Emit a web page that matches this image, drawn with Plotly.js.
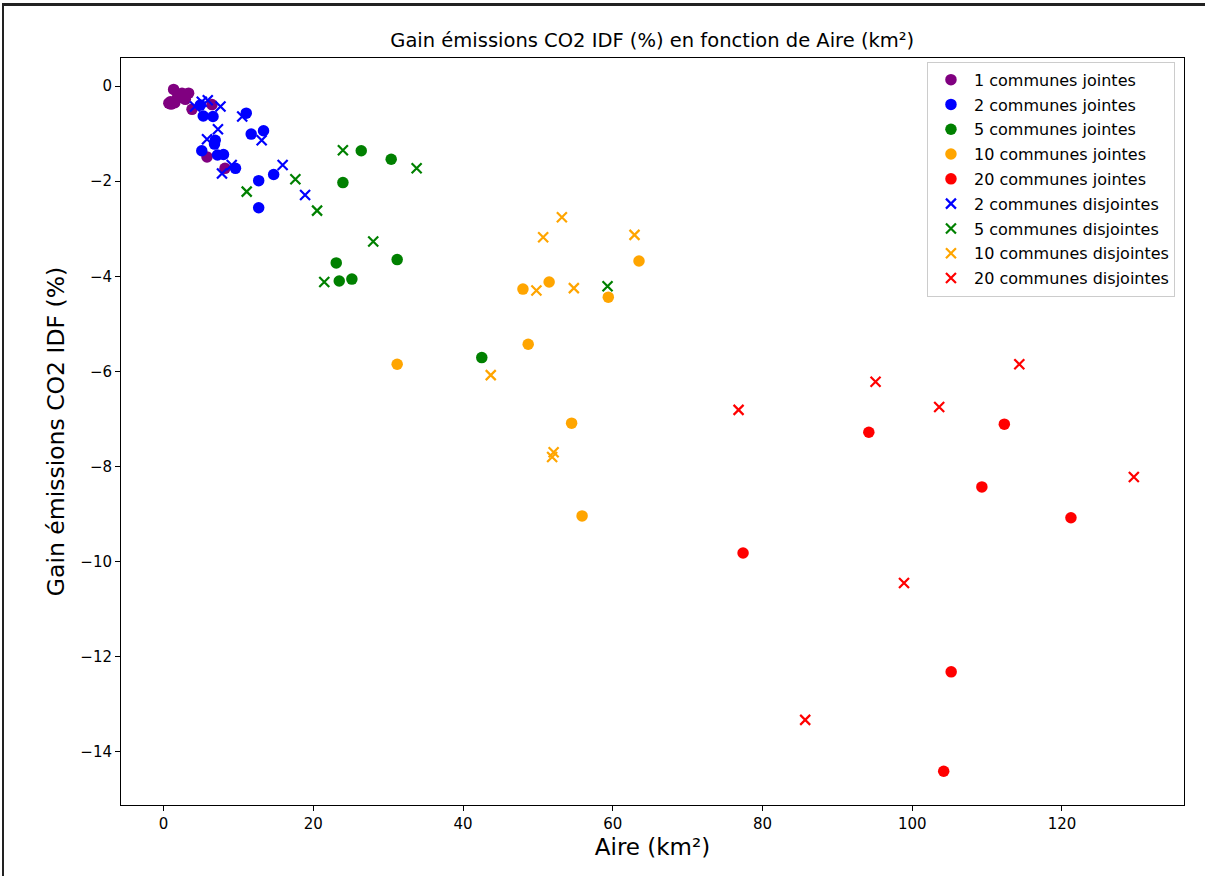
<!DOCTYPE html>
<html>
<head>
<meta charset="utf-8">
<script src="https://cdn.plot.ly/plotly-3.0.1.min.js"></script>
<style>
  html, body { margin: 0; padding: 0; background: #fff; }
  #frame { position: absolute; left: 2px; top: 3px; width: 1203px; height: 873px; border-left: 2px solid #222; border-top: 3px solid #222; box-sizing: border-box; pointer-events: none; }
  #chart { width: 1205px; height: 876px; }
</style>
</head>
<body>
<div id="chart"></div>
<div id="frame"></div>
<script>
// 1 commune jointe
const j1_x = [1.34, 2.46, 3.34, 0.9, 1.8, 2.9, 1.0, 2.2, 3.0, 3.8, 6.46, 5.8, 8.2, 1.5, 0.7];
const j1_y = [-0.07, -0.15, -0.15, -0.33, -0.26, -0.28, -0.38, -0.2, -0.18, -0.49, -0.39, -1.49, -1.73, -0.35, -0.36];
// 2 communes jointes
const j2_x = [4.9, 5.3, 6.6, 11.04, 11.7, 13.35, 6.9, 6.8, 5.1, 7.2, 8.0, 9.6, 12.7, 14.7, 12.7];
const j2_y = [-0.4, -0.63, -0.64, -0.57, -1.01, -0.94, -1.14, -1.22, -1.36, -1.45, -1.44, -1.73, -1.99, -1.86, -2.56];
// 5 communes jointes
const j5_x = [26.4, 30.4, 23.95, 23.06, 23.46, 25.15, 31.2, 42.5];
const j5_y = [-1.36, -1.54, -2.03, -3.72, -4.10, -4.06, -3.65, -5.71];
// 10 communes jointes
const j10_x = [31.2, 48.0, 48.7, 51.5, 54.5, 55.9, 59.4, 63.5];
const j10_y = [-5.85, -4.27, -5.43, -4.12, -7.09, -9.04, -4.44, -3.68];
// 20 communes jointes
const j20_x = [77.4, 94.2, 104.2, 105.2, 109.3, 112.3, 121.2];
const j20_y = [-9.82, -7.28, -14.41, -12.32, -8.43, -7.11, -9.08];
// 2 communes disjointes
const d2_x = [5.1, 4.2, 7.6, 10.5, 7.26, 5.8, 13.1, 7.8, 9.1, 15.9, 18.9, 5.9];
const d2_y = [-0.33, -0.43, -0.43, -0.64, -0.91, -1.12, -1.14, -1.84, -1.66, -1.66, -2.29, -0.3];
// 5 communes disjointes
const d5_x = [11.1, 17.6, 20.5, 23.95, 28.0, 21.46, 33.8, 59.3];
const d5_y = [-2.22, -1.96, -2.62, -1.35, -3.27, -4.12, -1.73, -4.21];
// 10 communes disjointes
const d10_x = [53.2, 50.7, 49.8, 54.8, 62.9, 43.7, 52.1, 51.9];
const d10_y = [-2.76, -3.18, -4.30, -4.25, -3.13, -6.08, -7.7, -7.8];
// 20 communes disjointes
const d20_x = [76.8, 85.7, 95.1, 98.9, 103.6, 114.3, 129.6];
const d20_y = [-6.81, -13.33, -6.22, -10.45, -6.75, -5.85, -8.22];

const seriesNames = ["1 communes jointes", "2 communes jointes", "5 communes jointes", "10 communes jointes", "20 communes jointes",
  "2 communes disjointes", "5 communes disjointes", "10 communes disjointes", "20 communes disjointes"];
const colors = ["#800080", "#0000ff", "#008000", "#ffa500", "#ff0000", "#0000ff", "#008000", "#ffa500", "#ff0000"];
const xs = [j1_x, j2_x, j5_x, j10_x, j20_x, d2_x, d5_x, d10_x, d20_x];
const ys = [j1_y, j2_y, j5_y, j10_y, j20_y, d2_y, d5_y, d10_y, d20_y];

const FONT = "DejaVu Sans, sans-serif";
const traces = seriesNames.map((name, i) => {
  const isX = i >= 5;
  return {
    type: "scatter", mode: "markers", name: name, legendgroup: "g" + i,
    x: xs[i], y: ys[i],
    marker: isX
      ? { symbol: "x-thin", size: 10, color: colors[i], line: { width: 2.2, color: colors[i] } }
      : { symbol: "circle", size: 11.5, color: colors[i], line: { width: 0 } }
  };
});

const layout = {
  width: 1205, height: 876,
  margin: { l: 121, r: 21, t: 58, b: 71 },
  paper_bgcolor: "#ffffff", plot_bgcolor: "#ffffff",
  font: { family: FONT, color: "#000" },
  title: { text: "Gain émissions CO2 IDF (%) en fonction de Aire (km²)", font: { family: FONT, size: 19.5, color: "#000" }, x: 0.5413, xanchor: "center", y: 0.954, yanchor: "middle" },
  xaxis: {
    range: [-5.69, 136.3], dtick: 20, tick0: 0,
    showgrid: false, zeroline: false,
    showline: true, linecolor: "#000", linewidth: 1, mirror: true,
    ticks: "outside", ticklen: 5, tickwidth: 1, tickcolor: "#000",
    tickfont: { family: FONT, size: 15, color: "#000" },
    title: { text: "Aire (km²)", font: { family: FONT, size: 23, color: "#000" }, standoff: 6 },
    automargin: false
  },
  yaxis: {
    range: [-15.12, 0.59], dtick: 2, tick0: 0,
    showgrid: false, zeroline: false,
    showline: true, linecolor: "#000", linewidth: 1, mirror: true,
    ticks: "outside", ticklen: 5, tickwidth: 1, tickcolor: "#000",
    tickfont: { family: FONT, size: 15, color: "#000" },
    title: { text: "Gain émissions CO2 IDF (%)", font: { family: FONT, size: 23.5, color: "#000" }, standoff: 9 },
    automargin: false
  },
  legend: {
    x: 0.9915, xanchor: "right", y: 0.995, yanchor: "top",
    bgcolor: "rgba(255,255,255,0.8)", bordercolor: "#cccccc", borderwidth: 1,
    font: { family: FONT, size: 16, color: "#000" },
    itemwidth: 36, tracegroupgap: 1
  },
  showlegend: true
};

Plotly.newPlot("chart", traces, layout, { displayModeBar: false, staticPlot: true });
</script>
</body>
</html>
